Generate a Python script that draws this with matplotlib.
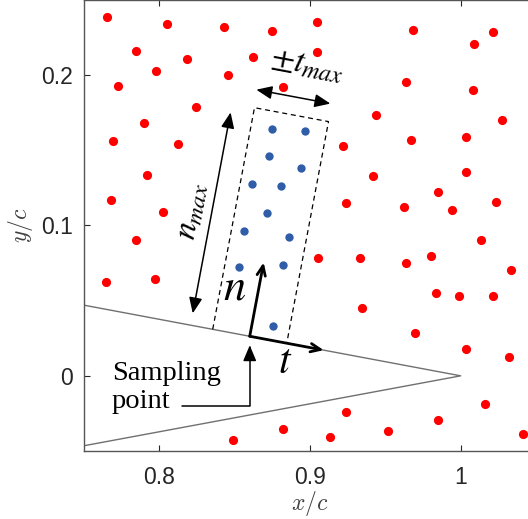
#importing required modules
import numpy as np
import matplotlib
matplotlib.use("Agg")
import matplotlib.pyplot as plt
from matplotlib.patches import Polygon

#point positions (x/c, y/c)
red_x = [0.7651, 0.8049, 0.8429, 0.8750, 0.7845, 0.8185, 0.8623, 0.7978, 0.8456, 0.7724,
         0.8823, 0.8241, 0.7896, 0.7692, 0.8124, 0.7916, 0.7681, 0.8024, 0.7845, 0.9046,
         0.9046, 0.9681, 1.0212, 1.0088, 0.9639, 1.0079, 0.9440, 1.0276, 1.0033, 0.9668,
         0.9221, 1.0037, 0.9420, 0.9847, 0.9241, 0.9621, 1.0236, 0.9940, 1.0136, 0.9056,
         0.9329, 0.9637, 0.9801, 1.0333, 0.9836, 0.9986, 1.0212, 0.9343, 0.9694, 1.0037,
         1.0320, 1.0161, 0.9239, 0.9847, 0.9519, 0.9134, 1.0413, 0.7646, 0.7973, 0.8823,
         0.8489]
red_y = [0.2390, 0.2342, 0.2319, 0.2292, 0.2159, 0.2109, 0.2120, 0.2031, 0.2000, 0.1927,
         0.1920, 0.1790, 0.1681, 0.1561, 0.1544, 0.1334, 0.1172, 0.1092, 0.0902, 0.2352,
         0.2157, 0.2299, 0.2290, 0.2209, 0.1953, 0.1900, 0.1732, 0.1704, 0.1586, 0.1568,
         0.1526, 0.1358, 0.1327, 0.1225, 0.1150, 0.1126, 0.1159, 0.1101, 0.0902, 0.0785,
         0.0781, 0.0749, 0.0797, 0.0704, 0.0551, 0.0528, 0.0528, 0.0448, 0.0284, 0.0179,
         0.0122, -0.0186, -0.0243, -0.0296, -0.0367, -0.0405, -0.0389, 0.0621, 0.0643, -0.0356,
         -0.0429]

blue_x = [0.8748, 0.8966, 0.8728, 0.8940, 0.8613, 0.8809, 0.8714, 0.8565, 0.8860, 0.8531,
          0.8823, 0.8752]
blue_y = [0.1644, 0.1626, 0.1464, 0.1380, 0.1278, 0.1260, 0.1086, 0.0963, 0.0926, 0.0722,
          0.0740, 0.0330]

#trailing edge wedge
surf_x = [0.75, 1.0, 0.75]
surf_y = [0.047, 0.0, -0.0465]

#sampling box parameters
x_sample = 0.86
t_max = 0.025
n_max = 0.15

#local frame at the sampling point
slope = (surf_y[1] - surf_y[0]) / (surf_x[1] - surf_x[0])
s = np.array([x_sample, surf_y[0] + slope * (x_sample - surf_x[0])])
t_hat = np.array([1.0, slope]) / np.hypot(1.0, slope)
n_hat = np.array([-t_hat[1], t_hat[0]])

def local(t, n):
    return s + t * t_hat + n * n_hat

fig = plt.figure(figsize=(5.28, 5.19), dpi=100)
ax = fig.add_axes([84/528, 68/519, 452/528, 451/519])

ax.plot(surf_x, surf_y, color='#707070', lw=1.0, zorder=1)
ax.plot(red_x, red_y, 'o', color='#ff0000', ms=6.6, mec='none', zorder=3)
ax.plot(blue_x, blue_y, 'o', color='#2f5da8', ms=6.0, mec='none', zorder=3)

#dashed sampling box
corners = [local(-t_max, 0), local(-t_max, n_max), local(t_max, n_max), local(t_max, 0)]
ax.add_patch(Polygon(corners, closed=False, fill=False, ls=(0, (4, 3)), lw=0.9,
                     color='black', zorder=2))

#n and t unit arrows
ax.annotate('', xy=local(0, 0.05), xytext=s,
            arrowprops=dict(arrowstyle='->,head_length=0.7,head_width=0.3', lw=2,
                            color='black', shrinkA=0, shrinkB=0), zorder=4)
ax.annotate('', xy=local(0.05, 0), xytext=s,
            arrowprops=dict(arrowstyle='->,head_length=0.7,head_width=0.3', lw=2,
                            color='black', shrinkA=0, shrinkB=0), zorder=4)
ax.text(*local(-0.016, 0.030), r'$n$', fontsize=32, math_fontfamily='stix',
        ha='center', va='center')
ax.text(*local(0.026, -0.012), r'$t$', fontsize=30, math_fontfamily='stix',
        ha='center', va='center')

#n_max and t_max dimension arrows
angle_n = np.degrees(np.arctan2(n_hat[1], n_hat[0]))
angle_t = np.degrees(np.arctan2(t_hat[1], t_hat[0]))
dim_style = '<|-|>,head_length=0.95,head_width=0.4'
ax.annotate('', xy=local(-0.040, 0.144), xytext=local(-0.040, 0.008),
            arrowprops=dict(arrowstyle=dim_style, lw=1.1,
                            color='black', shrinkA=0, shrinkB=0))
ax.text(*local(-0.054, 0.075), r'$n_{max}$', fontsize=24, math_fontfamily='stix',
        rotation=angle_n, rotation_mode='anchor', ha='center', va='center')
ax.annotate('', xy=local(0.024, 0.162), xytext=local(-0.026, 0.162),
            arrowprops=dict(arrowstyle=dim_style, lw=1.1,
                            color='black', shrinkA=0, shrinkB=0))
ax.text(*local(0.004, 0.185), r'$\pm t_{max}$', fontsize=24.5, math_fontfamily='stix',
        rotation=angle_t, rotation_mode='anchor', ha='center', va='center')

#sampling point callout
ax.text(0.7686, -0.0080, 'Sampling\npoint', fontsize=20.5, family='Liberation Serif',
        ha='left', va='center', linespacing=1.15)
ax.annotate('', xy=(s[0], s[1] - 0.006), xytext=(0.815, -0.0201),
            arrowprops=dict(arrowstyle='-|>,head_length=0.95,head_width=0.4', lw=1.1,
                            color='black', shrinkA=0, shrinkB=0,
                            connectionstyle='angle,angleA=0,angleB=90,rad=0'))

#axes styling
ax.set_xlim(0.75, 1.05)
ax.set_ylim(-0.05, 0.25)
ax.set_xticks([0.8, 0.9, 1.0])
ax.set_xticklabels(['0.8', '0.9', '1'])
ax.set_yticks([0, 0.1, 0.2])
ax.set_yticklabels(['0', '0.1', '0.2'])
ax.tick_params(direction='in', length=4, width=0.8, top=True, right=True,
               labelsize=16.5, colors='#262626')
ax.tick_params(axis='x', pad=11)
ax.tick_params(axis='y', pad=8)
for lab in ax.get_xticklabels() + ax.get_yticklabels():
    lab.set_family('Liberation Sans')
for sp in ax.spines.values():
    sp.set_color('#555555')
    sp.set_linewidth(1.0)
ax.set_xlabel(r'$x/c$', fontsize=17, color='#404040', math_fontfamily='cm', labelpad=0)
ax.set_ylabel(r'$y/c$', fontsize=17, color='#404040', math_fontfamily='cm', labelpad=4)

fig.savefig('out.png', dpi=100)
